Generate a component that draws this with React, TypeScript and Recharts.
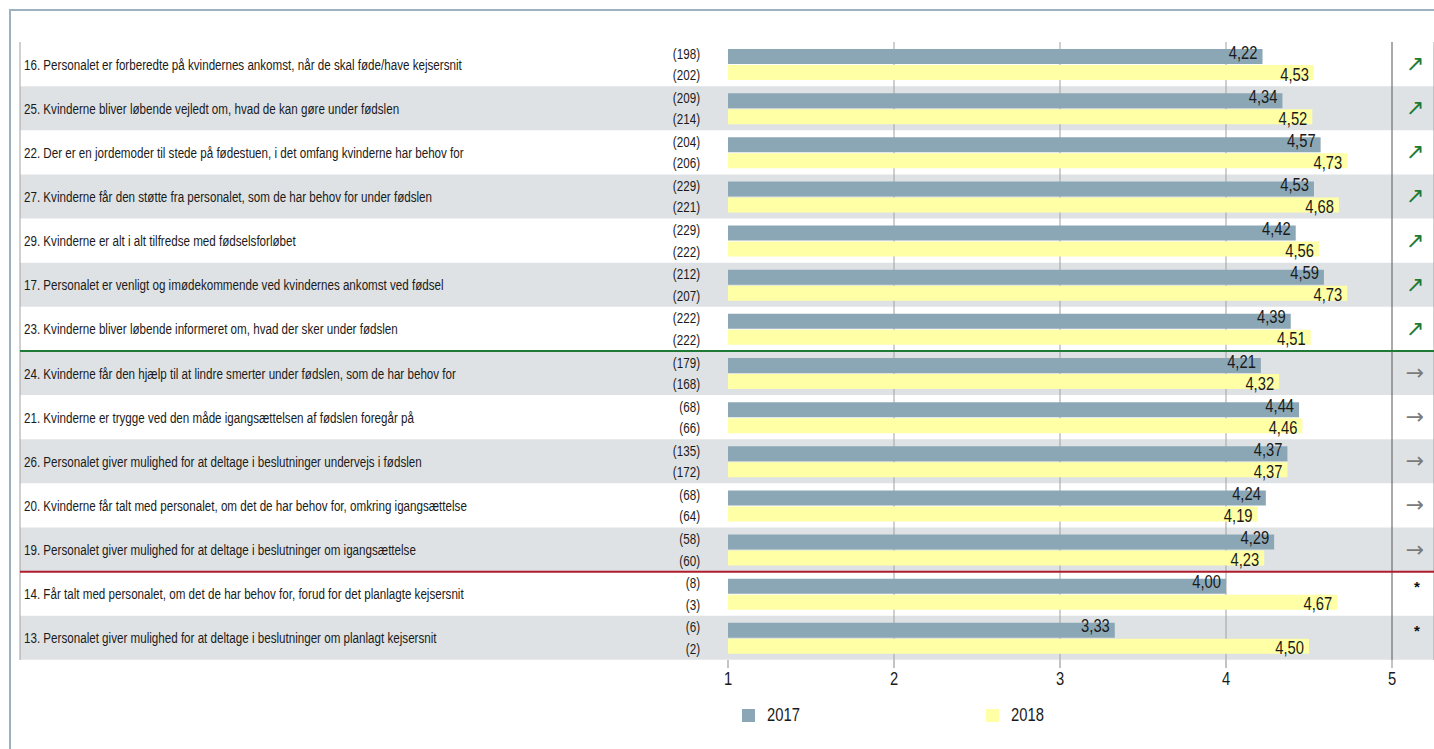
import React from "react";
import { BarChart, Bar, XAxis, YAxis, CartesianGrid, ReferenceLine, LabelList, Legend, Cell } from "recharts";

const labels = [
  "16. Personalet er forberedte på kvindernes ankomst, når de skal føde/have kejsersnit",
  "25. Kvinderne bliver løbende vejledt om, hvad de kan gøre under fødslen",
  "22. Der er en jordemoder til stede på fødestuen, i det omfang kvinderne har behov for",
  "27. Kvinderne får den støtte fra personalet, som de har behov for under fødslen",
  "29. Kvinderne er alt i alt tilfredse med fødselsforløbet",
  "17. Personalet er venligt og imødekommende ved kvindernes ankomst ved fødsel",
  "23. Kvinderne bliver løbende informeret om, hvad der sker under fødslen",
  "24. Kvinderne får den hjælp til at lindre smerter under fødslen, som de har behov for",
  "21. Kvinderne er trygge ved den måde igangsættelsen af fødslen foregår på",
  "26. Personalet giver mulighed for at deltage i beslutninger undervejs i fødslen",
  "20. Kvinderne får talt med personalet, om det de har behov for, omkring igangsættelse",
  "19. Personalet giver mulighed for at deltage i beslutninger om igangsættelse",
  "14. Får talt med personalet, om det de har behov for, forud for det planlagte kejsersnit",
  "13. Personalet giver mulighed for at deltage i beslutninger om planlagt kejsersnit",
];
const values2017 = [4.22, 4.34, 4.57, 4.53, 4.42, 4.59, 4.39, 4.21, 4.44, 4.37, 4.24, 4.29, 4.0, 3.33];
const values2018 = [4.53, 4.52, 4.73, 4.68, 4.56, 4.73, 4.51, 4.32, 4.46, 4.37, 4.19, 4.23, 4.67, 4.5];
const count2017 = [198, 209, 204, 229, 229, 212, 222, 179, 68, 135, 68, 58, 8, 6];
const count2018 = [202, 214, 206, 221, 222, 207, 222, 168, 66, 172, 64, 60, 3, 2];
const trends = ["up", "up", "up", "up", "up", "up", "up", "flat", "flat", "flat", "flat", "flat", "na", "na"];
const xTicks = [1, 2, 3, 4, 5];

const data = labels.map((label, i) => ({
  label,
  band: 1,
  v2017: values2017[i],
  v2018: values2018[i],
  n2017: count2017[i],
  n2018: count2018[i],
  trend: trends[i],
}));

// no Arial Narrow available: squeeze Liberation Sans horizontally instead
const FONT = "'Liberation Sans', Arial, sans-serif";
const SQUEEZE = 0.82;
const C2017 = "#8ba7b5";
const C2018 = "#ffffa6";
const BAND = "#dfe2e5";
const INK = "#1a1a1a";

const fmt = (v: number) => v.toFixed(2).replace(".", ",");

function box(p: any) {
  const vb = p.viewBox || p;
  return { x: Number(vb.x), y: Number(vb.y), w: Number(vb.width), h: Number(vb.height) };
}

const Narrow = ({ x, y, size, anchor, squeeze, children }: any) => (
  <text
    transform={`translate(${x},${y}) scale(${squeeze || SQUEEZE},1)`}
    textAnchor={anchor || "start"}
    fontSize={size}
    fill={INK}
    fontFamily={FONT}
  >
    {children}
  </text>
);

const RowLabel = (p: any) => {
  const b = box(p);
  return (
    <Narrow x={b.x + 4} y={b.y + b.h / 2 + 5.5} size={15.5} squeeze={0.75}>
      {p.value}
    </Narrow>
  );
};

const TrendMark = (p: any) => {
  const b = box(p);
  const cx = b.x + b.w - 19;
  const cy = b.y + b.h / 2;
  if (p.value === "up")
    return (
      <text x={cx} y={cy + 7} textAnchor="middle" fontSize={22} fill="#1e7b34" fontFamily="DejaVu Sans">
        ↗
      </text>
    );
  if (p.value === "flat")
    return (
      <text x={cx} y={cy + 7} textAnchor="middle" fontSize={22} fill="#7a7a7a" fontFamily="DejaVu Sans">
        →
      </text>
    );
  return (
    <text x={cx + 2} y={cy - 2} textAnchor="middle" fontSize={15} fontWeight="bold" fill="#111" fontFamily={FONT}>
      *
    </text>
  );
};

const countLabel = (off: number) => (p: any) => {
  const b = box(p);
  return (
    <Narrow x={b.x - 28} y={b.y + b.h / 2 + off} size={15.5} squeeze={0.75} anchor="end">
      ({p.value})
    </Narrow>
  );
};

const valueLabel = (off: number) => (p: any) => {
  const b = box(p);
  return (
    <Narrow x={b.x + b.w - 5} y={b.y + b.h / 2 + off} size={18} anchor="end">
      {fmt(Number(p.value))}
    </Narrow>
  );
};

const AxisTick = (p: any) => (
  <Narrow x={p.x} y={p.y + 13} size={18} anchor="middle">
    {p.payload.value}
  </Narrow>
);

const gridLine = (p: any) => {
  if (p.index === 0) return <g key={p.key} />;
  const dark = p.index === xTicks.length - 1;
  return (
    <line
      key={p.key}
      x1={p.x1}
      x2={p.x2}
      y1={p.y1}
      y2={p.y2}
      stroke={dark ? "#555" : "#a0a0a0"}
      strokeWidth={1}
    />
  );
};

const LegendBox = (props: any) => (
  <div style={{ display: "flex", fontFamily: FONT, fontSize: 18, color: INK }}>
    {(props.payload || [])
      .filter((e: any) => e.value === "2017" || e.value === "2018")
      .map((e: any) => (
        <div key={e.value} style={{ width: 244, flexShrink: 0, display: "flex", alignItems: "center" }}>
          <span style={{ width: 13, height: 13, background: e.color, display: "inline-block", marginRight: 12 }} />
          <span style={{ display: "inline-block", transform: `scaleX(${SQUEEZE})`, transformOrigin: "left center" }}>
            {e.value}
          </span>
        </div>
      ))}
  </div>
);

export default function App() {
  return (
    <div style={{ position: "absolute", left: 0, top: 0, width: 1434, height: 749, overflow: "hidden", background: "#fff" }}>
      <div
        style={{
          position: "absolute",
          left: 9,
          top: 9,
          width: 1500,
          height: 800,
          borderLeft: "2px solid #9db2c0",
          borderTop: "2px solid #9db2c0",
        }}
      />
      <div style={{ position: "absolute", left: 0, top: 0 }}>
        <BarChart
          width={1434}
          height={749}
          data={data}
          layout="vertical"
          margin={{ top: 42, right: 0, bottom: 59, left: 20 }}
          barCategoryGap={0}
          barGap={1}
          style={{ fontFamily: FONT }}
        >
          <XAxis xAxisId="band" type="number" domain={[0, 1]} orientation="top" hide />
          <XAxis
            xAxisId="main"
            type="number"
            domain={[1, 5]}
            ticks={xTicks}
            padding={{ left: 708, right: 42 }}
            axisLine={false}
            tickSize={8}
            tickMargin={4}
            tickLine={{ stroke: "#888" }}
            tick={AxisTick}
            height={30}
          />
          <YAxis yAxisId="band" type="category" dataKey="label" hide />
          <YAxis yAxisId="main" type="category" dataKey="label" hide />
          <Bar
            xAxisId="band"
            yAxisId="band"
            dataKey="band"
            legendType="none"
            isAnimationActive={false}
            zIndex={-200}
          >
            {data.map((d, i) => (
              <Cell key={d.label} fill={i % 2 === 1 ? BAND : "rgba(255,255,255,0)"} />
            ))}
            <LabelList dataKey="label" content={RowLabel} />
            <LabelList dataKey="trend" content={TrendMark} />
          </Bar>
          <CartesianGrid xAxisId="main" yAxisId="main" horizontal={false} vertical={gridLine} />
          <Bar xAxisId="main" yAxisId="main" dataKey="v2017" name="2017" fill={C2017} barSize={15} isAnimationActive={false}>
            <LabelList dataKey="n2017" content={countLabel(2)} />
            <LabelList dataKey="v2017" content={valueLabel(2)} />
          </Bar>
          <Bar xAxisId="main" yAxisId="main" dataKey="v2018" name="2018" fill={C2018} barSize={15} isAnimationActive={false}>
            <LabelList dataKey="n2018" content={countLabel(7.5)} />
            <LabelList dataKey="v2018" content={valueLabel(8)} />
          </Bar>
          <ReferenceLine xAxisId="band" yAxisId="band" y={labels[7]} position="start" stroke="#1f7a35" strokeWidth={2} />
          <ReferenceLine xAxisId="band" yAxisId="band" y={labels[12]} position="start" stroke="#b01c2e" strokeWidth={2} />
          <Legend
            layout="horizontal"
            verticalAlign="middle"
            align="center"
            content={LegendBox}
            wrapperStyle={{ left: 742, top: 705, width: 600 }}
          />
        </BarChart>
      </div>
    </div>
  );
}
